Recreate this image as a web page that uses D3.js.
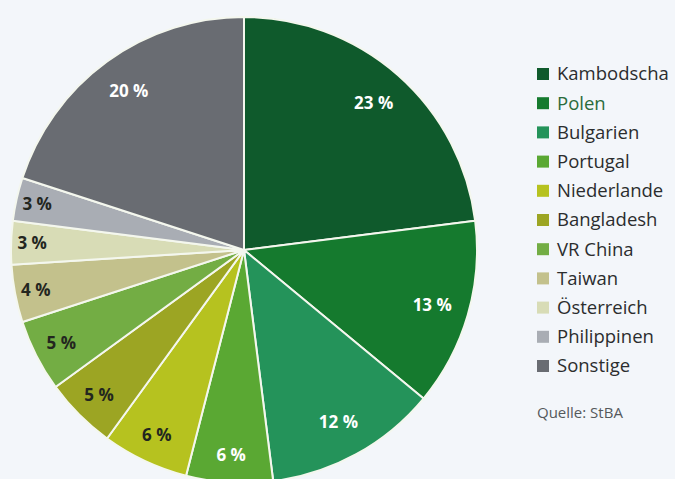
<!DOCTYPE html>
<html>
<head>
<meta charset="UTF-8">
<script src="https://d3js.org/d3.v7.min.js"></script>
<style>
  html, body { margin: 0; padding: 0; background: #f3f6fa; }
  svg { display: block; }
</style>
</head>
<body>
<div id="chart"></div>
<script>
// Anteile in Prozent, im Uhrzeigersinn ab 12 Uhr
var countries = ["Kambodscha", "Polen", "Bulgarien", "Portugal", "Niederlande",
                 "Bangladesh", "VR China", "Taiwan", "Österreich", "Philippinen", "Sonstige"];
var shares = [23, 13, 12, 6, 6, 5, 5, 4, 3, 3, 20];
var colors = ["#0f5a2c", "#157a2e", "#24935a", "#5aa833", "#b6c21f",
              "#9ca523", "#73ad44", "#c3c18c", "#d8dcb6", "#a9adb4", "#696c72"];
var darkText = [false, false, false, false, true, true, true, true, true, true, false];
var source = "Quelle: StBA";

var width = 675, height = 479;
var cx = 244, cy = 250, radius = 233;

var svg = d3.select("#chart")
  .append("svg")
    .attr("width", width)
    .attr("height", height);

var data = countries.map(function(c, i) {
  return { name: c, value: shares[i], color: colors[i], dark: darkText[i] };
});

var pie = d3.pie()
  .value(function(d) { return d.value; })
  .sort(null);

var arc = d3.arc()
  .innerRadius(0)
  .outerRadius(radius);

var g = svg.append("g")
  .attr("transform", "translate(" + cx + "," + cy + ")");

var arcs = pie(data);

g.selectAll("path")
  .data(arcs)
  .enter()
  .append("path")
    .attr("d", arc)
    .attr("fill", function(d) { return d.data.color; })
    .attr("stroke", "#f4f7ee")
    .attr("stroke-width", 2)
    .attr("stroke-linejoin", "round");

// labels: small slices sit a bit further out
g.selectAll("text.pct")
  .data(arcs)
  .enter()
  .append("text")
    .attr("class", "pct")
    .attr("transform", function(d) {
      var r = d.data.value <= 4 ? 212 : (d.data.value <= 6 ? 205 : 196);
      var c = d3.arc().innerRadius(r).outerRadius(r).centroid(d);
      return "translate(" + c[0] + "," + c[1] + ")";
    })
    .attr("text-anchor", "middle")
    .attr("dy", "0.35em")
    .style("font-family", "'Open Sans', sans-serif")
    .style("font-weight", "bold")
    .style("font-size", "17px")
    .style("fill", function(d) { return d.data.dark ? "#23261f" : "#ffffff"; })
    .text(function(d) { return d.data.value + " %"; });

// legend
var legend = svg.append("g")
  .attr("transform", "translate(537,74)");

var rows = legend.selectAll("g.row")
  .data(data)
  .enter()
  .append("g")
    .attr("class", "row")
    .attr("transform", function(d, i) { return "translate(0," + (i * 29.2) + ")"; });

rows.append("rect")
  .attr("x", 0)
  .attr("y", -6)
  .attr("width", 12)
  .attr("height", 12)
  .attr("fill", function(d) { return d.color; });

rows.append("text")
  .attr("x", 20)
  .attr("dy", "0.35em")
  .style("font-family", "'Open Sans', sans-serif")
  .style("font-size", "18.5px")
  .style("fill", function(d) { return d.name == "Polen" ? "#2a6b3c" : "#2b2d2e"; })
  .text(function(d) { return d.name; });

svg.append("text")
  .attr("x", 537)
  .attr("y", 418)
  .style("font-family", "'Open Sans', sans-serif")
  .style("font-size", "15px")
  .style("fill", "#55595c")
  .text(source);
</script>
</body>
</html>
